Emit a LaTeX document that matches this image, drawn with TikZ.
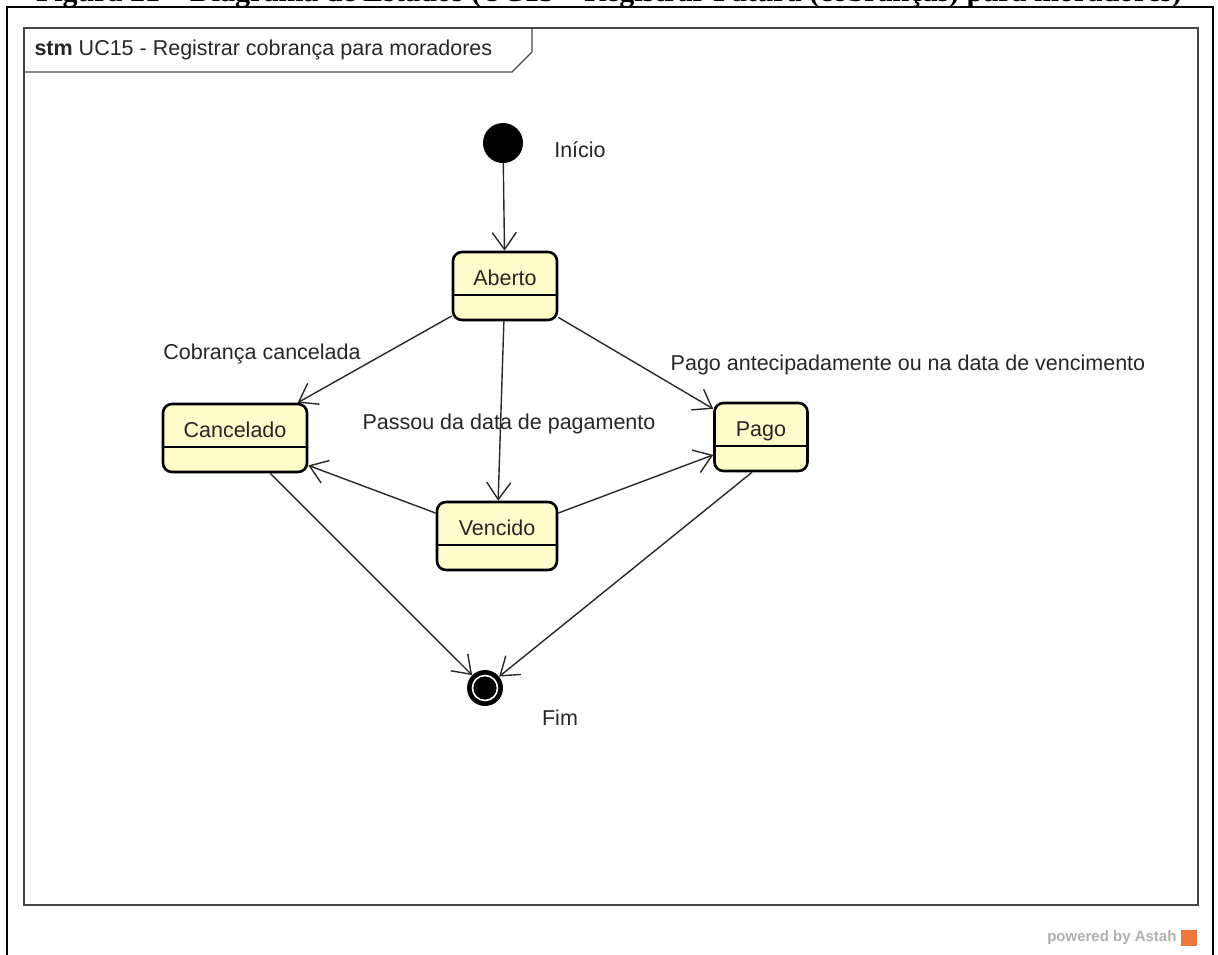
\documentclass[tikz,border=0pt]{standalone}
\usepackage{fontspec}
\setmainfont{Liberation Sans}
\newfontfamily\legendefont{Liberation Serif}
\usetikzlibrary{arrows.meta}
\definecolor{cjaune}{RGB}{255,252,204}
\definecolor{ctrait}{RGB}{40,40,40}
\definecolor{ccadre}{RGB}{70,70,70}
\definecolor{cgris}{RGB}{175,175,175}
\definecolor{castah}{RGB}{236,120,60}

\begin{document}
\begin{tikzpicture}[x=1pt, y=-1pt, >={Straight Barb[length=17pt,width=24pt]},
  every node/.style={font=\fontsize{21.5}{26}\selectfont, text=black!85},
  lbl/.style={inner sep=0pt, text height=15.4pt, text depth=0pt},
  etat/.style={draw, line width=2.6pt, rounded corners=9pt, fill=cjaune,
    inner xsep=0pt, inner ysep=0pt, text height=33pt, text depth=35pt,
    path picture={\draw[line width=1.3pt] ([yshift=25pt]path picture bounding box.south west)
      -- ([yshift=25pt]path picture bounding box.south east);}},
  trans/.style={->, line width=1.4pt, ctrait}]
\useasboundingbox (0,0) rectangle (1218,954);
% legende coupee en haut
\begin{scope}
\clip (0,0) rectangle (1218,954);
\node[font=\legendefont\bfseries\fontsize{30}{34}\selectfont, text=black, anchor=base] (legende) at (609,1)
  {Figura 21 – Diagrama de Estados (UC15 – Registrar Fatura (cobranças) para moradores)};
\end{scope}
% cadres
\draw[line width=2.6pt] (7,960) -- (7,7) -- (1213,7) -- (1213,960);
\draw[line width=1.3pt, ccadre] (24,28) rectangle (1198,905);
\draw[line width=1.3pt, ccadre] (24,72) -- (512,72) -- (532,52) -- (532,28);
\node[anchor=west] (titre) at (31,50) {\textbf{stm} UC15 - Registrar cobrança para moradores};
% etats
\node[circle, fill=black, minimum size=40pt, inner sep=0pt] (debut) at (503,143) {};
\node[etat, minimum width=104pt] (aberto) at (505,286) {Aberto};
\node[etat, minimum width=144pt] (cancelado) at (235,438) {Cancelado};
\node[etat, minimum width=120pt] (vencido) at (497,536) {Vencido};
\node[etat, minimum width=93pt] (pago) at (761,437) {Pago};
\node[circle, fill=black, minimum size=36pt, inner sep=0pt,
  path picture={\draw[white, line width=1.6pt] (path picture bounding box.center) circle (12.5pt);}] (fim) at (485,688) {};
% textes
\node[lbl] (inicio) at (580,150) {Início};
\node[lbl] (lfim) at (560,718) {Fim};
\node[lbl] (lcancel) at (262,352) {Cobrança cancelada};
\node[lbl] (lvencido) at (509,422) {Passou da data de pagamento};
\node[lbl] (lpago) at (908,363) {Pago antecipadamente ou na data de vencimento};
% transitions
\draw[trans] (debut) -- (aberto);
\draw[trans] (aberto) -- (cancelado);
\draw[trans] (aberto) -- (vencido);
\draw[trans] (aberto) -- (pago);
\draw[trans] (vencido) -- (cancelado);
\draw[trans] (vencido) -- (pago);
\draw[trans] (cancelado) -- (fim);
\draw[trans] ([xshift=-9pt]pago.south) -- (fim);
% logo
\node[anchor=east, font=\bfseries\fontsize{15}{18}\selectfont, text=cgris] (astah) at (1180,938) {powered by Astah};
\fill[castah] (1181,930) rectangle (1197,946);
\end{tikzpicture}
\end{document}
